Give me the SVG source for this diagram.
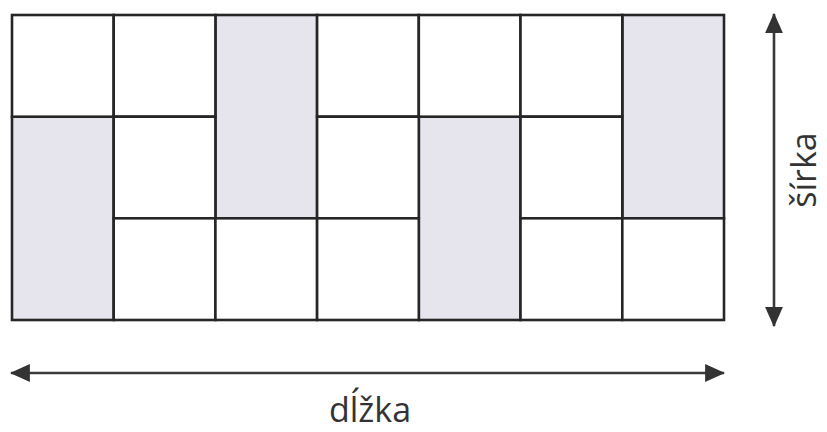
<svg xmlns="http://www.w3.org/2000/svg" width="827" height="432" viewBox="0 0 827 432">
  <style>
    .w { fill: #ffffff; stroke: #262626; stroke-width: 2.6; }
    .s { fill: #e6e4ec; stroke: #262626; stroke-width: 2.6; }
    .arr { stroke: #3a3a3a; stroke-width: 2.6; fill: none; }
    .lbl { font-family: "Open Sans", "Noto Sans", sans-serif; font-size: 34px; fill: #333333; }
  </style>
  <defs>
    <marker id="ah" markerUnits="userSpaceOnUse" markerWidth="20" markerHeight="18" refX="17" refY="8" orient="auto-start-reverse" viewBox="0 0 18 16">
      <path d="M0,0 L18,8 L0,16 Z" fill="#333333"/>
    </marker>
  </defs>
  <rect width="827" height="432" fill="#ffffff"/>
  <g id="tiles">
    <g id="shaded">
      <rect id="s1" class="s" x="215.4" y="15" width="101.7" height="203.3"/>
      <rect id="s2" class="s" x="622.3" y="15" width="101.7" height="203.3"/>
      <rect id="s3" class="s" x="12" y="116.7" width="101.7" height="203.3"/>
      <rect id="s4" class="s" x="418.8" y="116.7" width="101.7" height="203.3"/>
    </g>
    <g id="white">
      <rect id="w1" class="w" x="12" y="15" width="101.7" height="101.7"/>
      <rect id="w2" class="w" x="113.7" y="15" width="101.7" height="101.7"/>
      <rect id="w3" class="w" x="317.1" y="15" width="101.7" height="101.7"/>
      <rect id="w4" class="w" x="418.8" y="15" width="101.7" height="101.7"/>
      <rect id="w5" class="w" x="520.5" y="15" width="101.8" height="101.7"/>
      <rect id="w6" class="w" x="113.7" y="116.7" width="101.7" height="101.6"/>
      <rect id="w7" class="w" x="317.1" y="116.7" width="101.7" height="101.6"/>
      <rect id="w8" class="w" x="520.5" y="116.7" width="101.8" height="101.6"/>
      <rect id="w9" class="w" x="113.7" y="218.3" width="101.7" height="101.7"/>
      <rect id="w10" class="w" x="215.4" y="218.3" width="101.7" height="101.7"/>
      <rect id="w11" class="w" x="317.1" y="218.3" width="101.7" height="101.7"/>
      <rect id="w12" class="w" x="520.5" y="218.3" width="101.8" height="101.7"/>
      <rect id="w13" class="w" x="622.3" y="218.3" width="101.7" height="101.7"/>
    </g>
  </g>
  <g id="connectors">
    <line class="arr" x1="774" y1="14" x2="774" y2="326" marker-start="url(#ah)" marker-end="url(#ah)"/>
    <line class="arr" x1="11" y1="373" x2="724" y2="373" marker-start="url(#ah)" marker-end="url(#ah)"/>
  </g>
  <g id="labels">
    <text id="dlzka" class="lbl" x="370" y="422" text-anchor="middle">dĺžka</text>
    <text id="sirka" class="lbl" transform="translate(816,170) rotate(-90)" x="0" y="0" text-anchor="middle">šírka</text>
  </g>
</svg>
